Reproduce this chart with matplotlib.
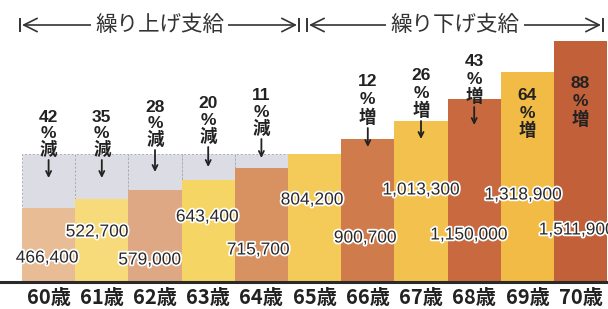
import matplotlib.pyplot as plt
import matplotlib.patheffects as pe

# データ
ages = ['60歳', '61歳', '62歳', '63歳', '64歳', '65歳',
        '66歳', '67歳', '68歳', '69歳', '70歳']
amounts = [466400, 522700, 579000, 643400, 715700, 804200,
           900700, 1013300, 1150000, 1318900, 1511900]
rates = ['42', '35', '28', '20', '11', '', '12', '26', '43', '64', '88']
kinds = ['減', '減', '減', '減', '減', '', '増', '増', '増', '増', '増']
base_age = 5  # 65歳

colors = ['#E8BC94', '#F7DA79', '#DDA883', '#F5D563', '#D89262', '#F4CB58',
          '#D07B4C', '#F3C24E', '#C8693F', '#F1BB45', '#C2603A']

# レイアウト (ピクセル基準)
BASE_PX = 282
YEN_PER_PX = 6281.0
BAR_PX = 53.2
LEFT_PX = 22


def py(p):
    return (BASE_PX - p) * YEN_PER_PX


def px(p):
    return (p - LEFT_PX) / BAR_PX - 0.5


label_dx = [-0.03, -0.09, -0.1, -0.02, -0.06, -0.05, -0.05, 0.0, -0.1, -0.08, -0.07]
label_py = [258, 232, 260, 217, 250, 200, 238, 190, 235, 195, 230]
rate_py = [117, 117, 107, 104, 96, None, 82, 75, 61, 95, 84]
arrow_end_py = [178, 178, 172, 167, 158, None, 147, 139, 125, None, None]

plt.rcParams['font.family'] = ['Liberation Sans', 'Noto Sans CJK JP']
fig = plt.figure(figsize=(6.08, 3.09), dpi=100)
ax = fig.add_axes([0, 0, 1, 1])
ax.set_xlim(px(0), px(608))
ax.set_ylim(py(309), py(0))
ax.axis('off')

x = list(range(len(ages)))
ax.bar(x, amounts, width=1.0, color=colors, edgecolor='none', zorder=2)

# 65歳との差 (灰色の部分)
for i in range(base_age):
    ax.bar(i, amounts[base_age] - amounts[i], bottom=amounts[i], width=1.0,
           color='#DCDDE4', edgecolor='#A9AAB4', linestyle=(0, (2, 2)),
           linewidth=0.7, zorder=1)

ax.axhline(0, color='#2a2a2a', lw=2.2, zorder=3)

# 金額ラベル
for i, v in enumerate(amounts):
    ax.text(i + label_dx[i], py(label_py[i]), f'{v:,}', ha='center', va='center',
            fontsize=12.5, color='#2a2a2a', zorder=5,
            path_effects=[pe.withStroke(linewidth=2.5, foreground='white')])

# 年齢ラベル
for i, a in enumerate(ages):
    ax.text(i, py(297), a, ha='center', va='center', fontsize=14.5,
            fontweight='bold', color='#222222',
            family=['Noto Sans CJK JP'])

# 増減率
for i in range(len(ages)):
    if not rates[i]:
        continue
    sp = 16.5 if i < base_age else 18
    top = rate_py[i]
    ax.text(i, py(top), rates[i], ha='center', va='center', fontsize=12.5,
            fontweight='bold', color='#222222', zorder=6)
    ax.text(i, py(top + sp), '%', ha='center', va='center', fontsize=12.5,
            fontweight='bold', color='#222222', zorder=6)
    ax.text(i, py(top + 2 * sp), kinds[i], ha='center', va='center',
            fontsize=12.5, fontweight='bold', color='#222222',
            family=['Noto Sans CJK JP'], zorder=6)
    if arrow_end_py[i] is not None:
        ax.annotate('', xy=(i, py(arrow_end_py[i])),
                    xytext=(i, py(top + 2 * sp + 10)),
                    arrowprops=dict(arrowstyle='->', lw=1.3, color='#222222',
                                    mutation_scale=9, shrinkA=0, shrinkB=0),
                    zorder=6)

# 見出し
headers = [('繰り上げ支給', 20, 299), ('繰り下げ支給', 307, 603)]
hy = py(25)
for title, x0, x1 in headers:
    ax.annotate('', xy=(px(x0 + 2), hy), xytext=(px(x1 - 2), hy),
                arrowprops=dict(arrowstyle='<->', lw=1.2, color='#333333',
                                mutation_scale=24, shrinkA=0, shrinkB=0))
    for e in (x0, x1):
        ax.plot([px(e), px(e)], [hy - 6 * YEN_PER_PX, hy + 6 * YEN_PER_PX],
                color='#333333', lw=1.4)
    ax.text(px((x0 + x1) / 2), hy, title, ha='center', va='center',
            fontsize=15.5, color='#333333', family=['Noto Sans CJK JP'],
            bbox=dict(facecolor='white', edgecolor='none', pad=3))

fig.savefig('out.png', dpi=100)
